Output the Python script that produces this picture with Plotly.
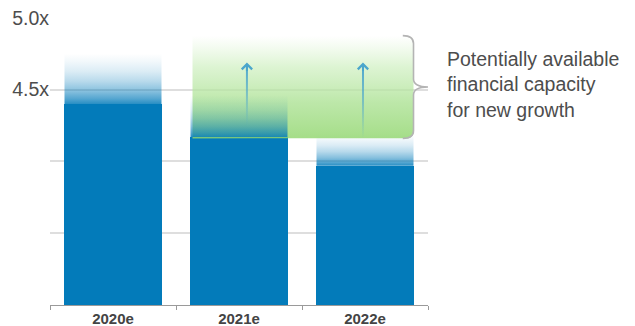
import math
import plotly.graph_objects as go

# Leverage ratio by year (x multiples)
years = ["2020e", "2021e", "2022e"]
solid_level = [4.40, 4.17, 3.97]     # firm estimate (solid bar top)
upper_level = [4.75, 4.46, 4.19]     # faded upper range of the estimate

# Headroom band and arrows
band_bottom = 4.16
band_top = 4.875
arrow_x = [1.063, 1.984]
arrow_from = [4.25, 4.16]
arrow_to = [4.6875]*2

y_ticks = [3.5, 4.0, 4.5, 5.0]
y_ticktext = ["", "", "4.5x", "5.0x"]

BLUE = "#037bba"
BAR_W = 0.77
FONT = "Liberation Sans, Arial, sans-serif"
xs = list(range(len(years)))

fig = go.Figure()


def rect_trace(x0, x1, y0, y1, scale):
    return go.Scatter(
        x=[x0, x1, x1, x0, x0], y=[y0, y0, y1, y1, y0],
        mode="lines", fill="toself", line=dict(width=0),
        fillgradient=dict(type="vertical", colorscale=scale),
        hoverinfo="skip", showlegend=False,
    )


fade_blue = [[0.0, "rgba(3,123,186,0.85)"], [0.1, "rgba(3,123,186,0.68)"],
             [0.25, "rgba(3,123,186,0.48)"], [0.45, "rgba(3,123,186,0.28)"],
             [0.65, "rgba(3,123,186,0.14)"], [0.85, "rgba(3,123,186,0.05)"],
             [1.0, "rgba(3,123,186,0.0)"]]

# solid bars
fig.add_trace(go.Bar(x=xs, y=solid_level, width=BAR_W, marker=dict(color=BLUE, line=dict(width=0)),
                     hoverinfo="skip", showlegend=False))

# faded tops behind the band (first and last year)
for i in (0, 2):
    fig.add_trace(rect_trace(xs[i] - BAR_W/2, xs[i] + BAR_W/2, solid_level[i], upper_level[i], fade_blue))

# green headroom band, slightly see-through, with a rounded lower-right corner
bx0 = xs[1] - BAR_W/2 + 0.016
bx1 = xs[2] + BAR_W/2
rx, ry = 0.048, 0.042
corner_x, corner_y = [], []
for k in range(7):
    a = math.pi/2 * k/6
    corner_x.append(bx1 - rx + rx*math.sin(a))
    corner_y.append(band_bottom + ry - ry*math.cos(a))
band_x = [bx0] + corner_x + [bx1, bx0, bx0]
band_y = [band_bottom] + corner_y + [band_top, band_top, band_bottom]
fig.add_trace(go.Scatter(
    x=band_x, y=band_y, mode="lines", fill="toself", line=dict(width=0),
    fillgradient=dict(type="vertical", colorscale=[[0.0, "rgba(145,214,110,0.82)"],
                                                   [0.35, "rgba(170,225,145,0.78)"],
                                                   [0.7, "rgba(208,240,194,0.72)"],
                                                   [1.0, "rgba(255,255,255,0.6)"]]),
    hoverinfo="skip", showlegend=False))

# middle year's faded top sits over the band
fig.add_trace(rect_trace(xs[1] - BAR_W/2, xs[1] + BAR_W/2, solid_level[1], upper_level[1], fade_blue))

# arrow shafts fading toward the bottom
shaft_w = 0.016
for ax_, a0, a1 in zip(arrow_x, arrow_from, arrow_to):
    fig.add_trace(rect_trace(ax_ - shaft_w/2, ax_ + shaft_w/2, a0, a1 - 0.01,
                             [[0, "rgba(75,166,204,0)"], [0.5, "rgba(75,166,204,0.6)"],
                              [1, "rgba(75,166,204,1)"]]))

annotations = []
for ax_, a1 in zip(arrow_x, arrow_to):
    annotations.append(dict(x=ax_, y=a1, xref="x", yref="y", ax=0, ay=10, showarrow=True,
                            arrowhead=4, arrowsize=1, arrowwidth=2, arrowcolor="#4ba6cc", text=""))

annotations.append(dict(
    x=1.046, y=(band_top + band_bottom)/2 + 0.02, xref="paper", yref="y",
    xanchor="left", yanchor="middle", align="left", showarrow=False,
    text="Potentially available<br>financial capacity<br>for new growth",
    font=dict(family=FONT, size=19.5, color="#4d4d4d")))

# curly brace next to the band
tail, tip, hy = 0.085, 0.115, 0.055
ym = (band_top + band_bottom)/2
brace = (f"M {bx1 - tail},{band_top} Q {bx1},{band_top} {bx1},{band_top - hy} "
         f"L {bx1},{ym + hy} Q {bx1},{ym} {bx1 + tip},{ym} "
         f"Q {bx1},{ym} {bx1},{ym - hy} L {bx1},{band_bottom + hy} "
         f"Q {bx1},{band_bottom} {bx1 - tail},{band_bottom}")

fig.update_layout(
    width=635, height=326,
    margin=dict(l=50, r=207, t=17, b=21, autoexpand=False),
    paper_bgcolor="white", plot_bgcolor="white",
    bargap=0,
    annotations=annotations,
    shapes=[dict(type="path", path=brace, xref="x", yref="y",
                 line=dict(color="#b4b4b4", width=1.6), layer="above")],
    xaxis=dict(
        range=[-0.5, 2.5], tickmode="array", tickvals=xs,
        ticktext=[f"<b>{y}</b>" for y in years],
        ticks="", showgrid=False, zeroline=False, automargin=False,
        showline=True, linecolor="#9a9a9a", linewidth=1,
        tickfont=dict(family=FONT, size=15, color="#444444"),
        minor=dict(tickmode="array", tickvals=[-0.5, 0.5, 1.5, 2.5], ticks="outside",
                   ticklen=4, tickcolor="#9a9a9a", tickwidth=1, showgrid=False),
        fixedrange=True,
    ),
    yaxis=dict(
        range=[3.0, 5.005], tickmode="array", tickvals=y_ticks, ticktext=y_ticktext,
        showgrid=True, gridcolor="#dedede", gridwidth=1.5, zeroline=False, ticks="",
        showline=False, automargin=False,
        tickfont=dict(family=FONT, size=19.5, color="#4d4d4d"),
        fixedrange=True,
    ),
    font=dict(family=FONT),
)

fig.write_html("out.html")
